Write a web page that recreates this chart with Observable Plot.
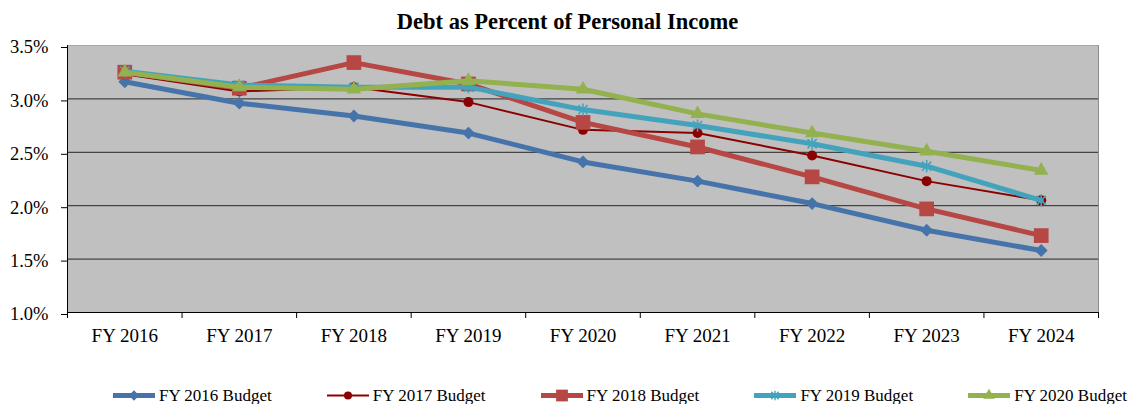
<!DOCTYPE html>
<html><head><meta charset="utf-8">
<script src="https://cdn.jsdelivr.net/npm/d3@7"></script>
<script src="https://cdn.jsdelivr.net/npm/@observablehq/plot@0.6"></script>
<style>
body{margin:0;background:#fff;font-family:"Liberation Serif","Times New Roman",serif;}
#wrap{position:relative;width:1135px;height:404px;overflow:hidden;}
#title{position:absolute;left:0;top:0;width:1135px;text-align:center;font-weight:bold;font-size:22.5px;line-height:1;padding-top:11px;color:#000;}
#chart{position:absolute;left:0;top:38px;line-height:0;}
#chart svg{display:block;}
.leg{position:absolute;top:386.5px;height:17px;display:flex;align-items:center;font-size:17px;line-height:1;color:#000;white-space:nowrap;}
.leg svg{display:block;margin-right:2px;}
</style></head><body>
<div id="wrap"><div id="title">Debt as Percent of Personal Income</div><div id="chart"></div></div>
<script>
const years = ["FY 2016","FY 2017","FY 2018","FY 2019","FY 2020","FY 2021","FY 2022","FY 2023","FY 2024"];
const seriesNames = ["FY 2016 Budget","FY 2017 Budget","FY 2018 Budget","FY 2019 Budget","FY 2020 Budget"];
const fy2016 = [3.16, 2.96, 2.84, 2.68, 2.41, 2.23, 2.02, 1.77, 1.58];
const fy2017 = [3.23, 3.07, 3.11, 2.97, 2.71, 2.68, 2.47, 2.23, 2.05];
const fy2018 = [3.25, 3.10, 3.34, 3.14, 2.78, 2.55, 2.27, 1.97, 1.72];
const fy2019 = [3.26, 3.13, 3.11, 3.11, 2.90, 2.75, 2.58, 2.37, 2.05];
const fy2020 = [3.25, 3.11, 3.09, 3.17, 3.09, 2.86, 2.68, 2.51, 2.33];
const yTicks = [1.0, 1.5, 2.0, 2.5, 3.0, 3.5];

const colors = ["#4674aa", "#8b0000", "#b64744", "#44a3bc", "#93b14f"];
const lineWidths = [5, 2, 5, 5, 5];
const radii = [5.8, 5, 8.3, 5.8, 5.4];

// Excel-style star marker: an X plus a vertical stroke
const excelStar = {
  draw(context, size) {
    const r = Math.sqrt(size / Math.PI) * 1.05;
    const d = r * 0.75;
    context.moveTo(0, -r); context.lineTo(0, r);
    context.moveTo(-d, -d); context.lineTo(d, d);
    context.moveTo(-d, d); context.lineTo(d, -d);
  }
};
const symbols = [d3.symbolDiamond2, d3.symbolCircle, d3.symbolSquare, excelStar, d3.symbolTriangle];
const strokedSymbol = [false, false, false, true, false];

const seriesValues = [fy2016, fy2017, fy2018, fy2019, fy2020];
const n = years.length;
const rows = seriesValues.map((vals, s) => vals.map((v, i) => ({series: seriesNames[s], i, v})));

const seriesMarks = rows.flatMap((data, s) => {
  const stroked = strokedSymbol[s];
  return [
    Plot.line(data, {x: "i", y: "v", stroke: colors[s], strokeWidth: lineWidths[s], strokeLinejoin: "round", strokeLinecap: "round"}),
    Plot.dot(data, {x: "i", y: "v", symbol: symbols[s], r: radii[s],
      fill: stroked ? "none" : colors[s], stroke: stroked ? colors[s] : "none", strokeWidth: stroked ? 1.6 : 0})
  ];
});

const chart = Plot.plot({
  width: 1135,
  height: 320,
  marginTop: 7,
  marginBottom: 46,
  marginLeft: 67,
  marginRight: 37,
  style: {fontFamily: "'Liberation Serif','Times New Roman',serif", fontSize: "19px", color: "#000", background: "#fff"},
  x: {type: "linear", domain: [-0.5, n - 0.5], label: null},
  y: {type: "linear", domain: [yTicks[0], yTicks[yTicks.length - 1]], label: null},
  marks: [
    Plot.frame({fill: "#c0c0c0", stroke: null}),
    Plot.ruleY(yTicks.slice(1, -1), {stroke: "#262626", strokeWidth: 1}),
    Plot.ruleY(yTicks.slice(-1), {stroke: "#a8a8a8", strokeWidth: 1}),
    Plot.ruleX([n - 0.5], {stroke: "#8c8c8c", strokeWidth: 1}),
    Plot.ruleX([-0.5], {stroke: "#000", strokeWidth: 1}),
    Plot.ruleY(yTicks.slice(0, 1), {stroke: "#000", strokeWidth: 1}),
    Plot.axisY({ticks: yTicks, tickFormat: d => d.toFixed(1) + "%", tickSize: 6, tickPadding: 13, fontSize: 18.5, dy: 2, stroke: "#000", label: null}),
    Plot.axisX({ticks: d3.range(n), tickFormat: i => years[i], tickSize: 0, tickPadding: 16, fontSize: 19, label: null}),
    Plot.axisX({ticks: d3.range(n + 1).map(i => i - 0.5), tickFormat: () => "", tickSize: 6, stroke: "#000", label: null}),
    ...seriesMarks
  ]
});
document.getElementById("chart").appendChild(chart);

// Legend (HTML below the chart)
const wrap = document.getElementById("wrap");
seriesNames.forEach((name, s) => {
  const item = document.createElement("div");
  item.className = "leg";
  item.style.left = (113 + s * 213.8) + "px";
  const svg = d3.create("svg").attr("width", 44).attr("height", 17);
  svg.append("line").attr("x1", 0).attr("x2", 42).attr("y1", 8.5).attr("y2", 8.5)
    .attr("stroke", colors[s]).attr("stroke-width", lineWidths[s]);
  const r = radii[s] * 0.8;
  const path = svg.append("path").attr("transform", "translate(21,8.5)")
    .attr("d", d3.symbol(symbols[s], Math.PI * r * r)());
  if (strokedSymbol[s]) path.attr("fill", "none").attr("stroke", colors[s]).attr("stroke-width", 1.4);
  else path.attr("fill", colors[s]);
  item.appendChild(svg.node());
  const t = document.createElement("span");
  t.textContent = name;
  item.appendChild(t);
  wrap.appendChild(item);
});
</script>
</body></html>
